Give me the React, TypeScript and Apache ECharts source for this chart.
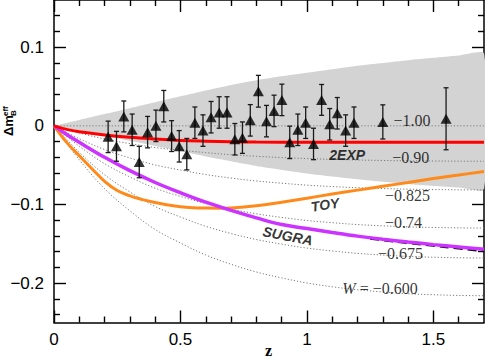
import React, { useEffect, useRef } from 'react';
import * as echarts from 'echarts';

// ---------- data ----------
const zGrid = [0, 0.1, 0.2, 0.3, 0.4, 0.5, 0.6, 0.7, 0.8, 0.9, 1.0, 1.1, 1.2, 1.3, 1.4, 1.5, 1.6, 1.7];

const bandUpper = [0, 0.0075, 0.015, 0.0225, 0.03, 0.0375, 0.045, 0.052, 0.058, 0.063, 0.0675, 0.072, 0.0765, 0.08, 0.0835, 0.0865, 0.0895, 0.092];
const bandLower = [0, -0.006, -0.0125, -0.019, -0.0255, -0.032, -0.039, -0.045, -0.051, -0.056, -0.0605, -0.0645, -0.068, -0.0712, -0.074, -0.0765, -0.0785, -0.08];

// constant-w model curves (dotted)
const wM100 = [0, 0, 0, 0, 0, 0, 0, 0, 0, 0, 0, 0, 0, 0, 0, 0, 0, 0];
const wM090 = [0, -0.009, -0.0167, -0.0225, -0.0275, -0.031, -0.034, -0.0367, -0.0387, -0.0403, -0.0416, -0.0426, -0.0434, -0.044, -0.0445, -0.0447, -0.0449, -0.045];
const wM0825 = [0, -0.0163, -0.0302, -0.0408, -0.0497, -0.0562, -0.0619, -0.0664, -0.0701, -0.0729, -0.0754, -0.0772, -0.0786, -0.0797, -0.0805, -0.081, -0.0813, -0.0815];
const wM074 = [0, -0.026, -0.0481, -0.065, -0.0793, -0.0897, -0.0988, -0.106, -0.1118, -0.1164, -0.1203, -0.1231, -0.1255, -0.1271, -0.1284, -0.1292, -0.1297, -0.13];
const wM0675 = [0, -0.0336, -0.0622, -0.084, -0.1025, -0.1159, -0.1277, -0.1369, -0.1445, -0.1504, -0.1554, -0.1591, -0.1621, -0.1643, -0.166, -0.167, -0.1677, -0.168];
const wM060 = [0, -0.0432, -0.0799, -0.108, -0.1318, -0.149, -0.1642, -0.176, -0.1858, -0.1933, -0.1998, -0.2046, -0.2084, -0.2112, -0.2134, -0.2147, -0.2156, -0.216];

// 2EXP (red)
const expZ = [0, 0.05, 0.1, 0.2, 0.3, 0.4, 0.5, 0.6, 0.7, 0.8, 1.0, 1.2, 1.4, 1.7];
const expM = [0, -0.0045, -0.0075, -0.0115, -0.0145, -0.0167, -0.0185, -0.0195, -0.0202, -0.0206, -0.021, -0.021, -0.021, -0.021];

// TOY (orange)
const toyZ = [0, 0.05, 0.1, 0.15, 0.2, 0.25, 0.3, 0.35, 0.4, 0.45, 0.5, 0.55, 0.6, 0.65, 0.7, 0.8, 0.9, 1.0, 1.1, 1.2, 1.3, 1.4, 1.5, 1.6, 1.7];
const toyM = [0, -0.021, -0.038, -0.0545, -0.0705, -0.0822, -0.089, -0.0938, -0.0975, -0.1005, -0.1028, -0.104, -0.1045, -0.1047, -0.1043, -0.1015, -0.097, -0.092, -0.0867, -0.0817, -0.0768, -0.072, -0.067, -0.0625, -0.058];

// SUGRA (magenta)
const sugraZ = [0, 0.05, 0.1, 0.2, 0.3, 0.4, 0.5, 0.6, 0.7, 0.8, 0.9, 1.0, 1.1, 1.2, 1.3, 1.4, 1.5, 1.6, 1.7];
const sugraM = [0, -0.011, -0.021, -0.04, -0.057, -0.072, -0.085, -0.097, -0.1075, -0.117, -0.1255, -0.1305, -0.1355, -0.1402, -0.1442, -0.1477, -0.151, -0.154, -0.157];

// black dashed segment
const dashZ = [1.25, 1.3, 1.4, 1.5, 1.6, 1.7];
const dashM = [-0.1435, -0.1455, -0.149, -0.1525, -0.156, -0.1595];

// SN data points
const pointZ = [0.214, 0.247, 0.276, 0.309, 0.337, 0.37, 0.403, 0.434, 0.465, 0.495, 0.525, 0.557, 0.589, 0.621, 0.653, 0.684, 0.715, 0.745, 0.776, 0.808, 0.84, 0.87, 0.901, 0.932, 0.964, 0.995, 1.026, 1.058, 1.09, 1.12, 1.153, 1.186, 1.3, 1.55];
const pointM = [-0.014, -0.026, 0.012, -0.005, -0.046, -0.008, 0.0, 0.025, -0.013, -0.026, -0.036, 0.004, -0.006, 0.011, 0.017, 0.017, -0.017, -0.015, 0.007, 0.044, 0.006, 0.019, 0.033, -0.021, -0.005, 0.004, -0.023, 0.033, 0.002, 0.016, -0.006, 0.004, 0.005, 0.009];
const pointErr = [0.02, 0.019, 0.0196, 0.02, 0.02, 0.02, 0.02, 0.02, 0.0196, 0.02, 0.02, 0.02, 0.02, 0.02, 0.02, 0.02, 0.02, 0.02, 0.02, 0.0202, 0.02, 0.02, 0.02, 0.0206, 0.02, 0.02, 0.02, 0.0196, 0.02, 0.02, 0.02, 0.02, 0.0217, 0.0394];

// axis ticks
const xMajor = [0, 0.5, 1, 1.5];
const xMinor = [0.1, 0.2, 0.3, 0.4, 0.6, 0.7, 0.8, 0.9, 1.1, 1.2, 1.3, 1.4, 1.6];
const yMajor = [-0.2, -0.1, 0, 0.1];
const yMinor = [-0.24, -0.22, -0.18, -0.16, -0.14, -0.12, -0.08, -0.06, -0.04, -0.02, 0.02, 0.04, 0.06, 0.08, 0.12, 0.14];

// curve annotations
const annoText = ['−1.00', '−0.90', '−0.825', '−0.74', '−0.675', '{i|W} = −0.600', '2EXP', 'TOY', 'SUGRA'];
const annoZ = [1.415, 1.41, 1.398, 1.382, 1.37, 1.289, 1.159, 1.072, 0.924];
const annoM = [0.007, -0.04, -0.0888, -0.123, -0.1625, -0.2066, -0.0368, -0.1003, -0.14];

const SERIF = '"Liberation Serif", "Times New Roman", serif';
const SANS = '"Liberation Sans", Arial, Helvetica, sans-serif';

const fmt = (v: number) => (v === 0 ? '0' : (v < 0 ? '−' : '') + String(Math.abs(v)));

export default function App() {
  const ref = useRef<HTMLDivElement>(null);
  useEffect(() => {
    if (!ref.current) return;
    const chart = echarts.init(ref.current, null, { renderer: 'svg' });

    const pair = (xs: number[], ys: number[]) => xs.map((x, i) => [x, ys[i]]);
    const dotted = (ys: number[], name: string) => ({
      type: 'line', name, data: pair(zGrid, ys), smooth: 0.35, showSymbol: false, symbol: 'none', z: 2,
      lineStyle: { color: '#7a7a7a', width: 1, type: [1.2, 2] }, silent: true,
    });

    const black = '#000';
    const xBase = { type: 'value', min: 0, max: 1.7, splitLine: { show: false } };
    const yBase = { type: 'value', min: -0.25, max: 0.16, splitLine: { show: false } };
    const tickStyle = { color: black, width: 1.4 };

    const annoItems = annoText.map((t, i) => {
      const isModel = i >= 6;
      const rot = t === 'TOY' ? 9 : t === 'SUGRA' ? -11 : 0;
      return {
        value: [annoZ[i], annoM[i]],
        label: {
          show: true,
          position: 'inside',
          formatter: t,
          rotate: rot,
          color: '#000',
          fontFamily: isModel ? SANS : SERIF,
          fontWeight: isModel ? 'bold' : 'normal',
          fontStyle: isModel ? 'italic' : 'normal',
          fontSize: isModel ? 14 : 16,
          rich: { i: { fontStyle: 'italic', fontFamily: SERIF, fontSize: 16, color: '#000' } },
        },
      };
    });

    const option: any = {
      animation: false,
      grid: { left: 54, right: 1, top: 0, bottom: 37.5, containLabel: false, outerBoundsMode: 'none' },
      xAxis: [
        {
          ...xBase, position: 'bottom',
          axisLine: { show: true, onZero: false, lineStyle: { color: black, width: 1.5 } },
          axisTick: { show: true, inside: true, length: 12, customValues: xMajor, lineStyle: tickStyle },
          axisLabel: { show: true, customValues: xMajor, formatter: fmt, color: black, fontSize: 17, fontFamily: SANS, margin: 8 },
        },
        {
          ...xBase, position: 'bottom',
          axisLine: { show: false, onZero: false },
          axisTick: { show: true, inside: true, length: 6, customValues: xMinor, lineStyle: tickStyle },
          axisLabel: { show: false },
        },
        {
          ...xBase, position: 'top',
          axisLine: { show: true, onZero: false, lineStyle: { color: black, width: 1.5 } },
          axisTick: { show: true, inside: true, length: 12, customValues: xMajor, lineStyle: tickStyle },
          axisLabel: { show: false },
        },
        {
          ...xBase, position: 'top',
          axisLine: { show: false, onZero: false },
          axisTick: { show: true, inside: true, length: 6, customValues: xMinor, lineStyle: tickStyle },
          axisLabel: { show: false },
        },
      ],
      yAxis: [
        {
          ...yBase, position: 'left',
          axisLine: { show: true, onZero: false, lineStyle: { color: black, width: 1.5 } },
          axisTick: { show: true, inside: true, length: 12, customValues: yMajor, lineStyle: tickStyle },
          axisLabel: { show: true, customValues: yMajor, formatter: fmt, color: black, fontSize: 17, fontFamily: SANS, margin: 10 },
        },
        {
          ...yBase, position: 'left',
          axisLine: { show: false, onZero: false },
          axisTick: { show: true, inside: true, length: 6, customValues: yMinor, lineStyle: tickStyle },
          axisLabel: { show: false },
        },
        {
          ...yBase, position: 'right',
          axisLine: { show: true, onZero: false, lineStyle: { color: black, width: 1.5 } },
          axisTick: { show: true, inside: true, length: 12, customValues: yMajor, lineStyle: tickStyle },
          axisLabel: { show: false },
        },
        {
          ...yBase, position: 'right',
          axisLine: { show: false, onZero: false },
          axisTick: { show: true, inside: true, length: 6, customValues: yMinor, lineStyle: tickStyle },
          axisLabel: { show: false },
        },
      ],
      graphic: [
        {
          type: 'group', x: 8.5, y: 136, rotation: Math.PI / 2, silent: true,
          children: [
            { type: 'text', x: 0, y: 0, style: { text: 'Δm', fontSize: 13, fontWeight: 'bold', fontFamily: SANS, fill: '#000', align: 'left', verticalAlign: 'middle' } },
            { type: 'text', x: 20, y: -3, style: { text: 'eff', fontSize: 8, fontWeight: 'bold', fontFamily: SANS, fill: '#000', align: 'left', verticalAlign: 'middle' } },
            { type: 'text', x: 20, y: 4.5, style: { text: 'B', fontSize: 8, fontWeight: 'bold', fontFamily: SANS, fill: '#000', align: 'left', verticalAlign: 'middle' } },
          ],
        },
        {
          type: 'text', x: 268.5, y: 350.5, silent: true,
          style: { text: 'z', fontSize: 16, fontWeight: 'bold', fontFamily: SERIF, fill: '#000', align: 'center', verticalAlign: 'middle' },
        },
      ],
      series: [
        {
          type: 'custom', name: 'band', z: 1, silent: true,
          data: [[0, 0]],
          renderItem: (_p: any, api: any) => {
            const pts: number[][] = [];
            for (let i = 0; i < zGrid.length; i++) pts.push(api.coord([zGrid[i], bandUpper[i]]));
            for (let i = zGrid.length - 1; i >= 0; i--) pts.push(api.coord([zGrid[i], bandLower[i]]));
            return { type: 'polygon', shape: { points: pts, smooth: 0.2 }, style: { fill: '#d3d3d3' } };
          },
        },
        dotted(wM100, 'w-1.00'),
        dotted(wM090, 'w-0.90'),
        dotted(wM0825, 'w-0.825'),
        dotted(wM074, 'w-0.74'),
        dotted(wM0675, 'w-0.675'),
        dotted(wM060, 'w-0.600'),
        {
          type: 'line', name: 'dash', data: pair(dashZ, dashM), smooth: true, symbol: 'none', z: 3,
          lineStyle: { color: '#000', width: 2, type: [9, 5] },
        },
        {
          type: 'line', name: 'TOY', data: pair(toyZ, toyM), smooth: 0.4, symbol: 'none', z: 3,
          lineStyle: { color: '#ff8a1c', width: 3 },
        },
        {
          type: 'line', name: 'SUGRA', data: pair(sugraZ, sugraM), smooth: 0.4, symbol: 'none', z: 4,
          lineStyle: { color: '#cc33ff', width: 3.5 },
        },
        {
          type: 'line', name: '2EXP', data: pair(expZ, expM), smooth: 0.4, symbol: 'none', z: 4,
          lineStyle: { color: '#ff0000', width: 3 },
        },
        {
          type: 'custom', name: 'errors', z: 5, silent: true,
          data: pointZ.map((z, i) => [z, pointM[i], pointErr[i]]),
          encode: { x: 0, y: 1 },
          renderItem: (_p: any, api: any) => {
            const x = api.value(0), y = api.value(1), e = api.value(2);
            const t = api.coord([x, y + e]);
            const b = api.coord([x, y - e]);
            const hw = 2.5;
            const st = { stroke: '#1a1a1a', lineWidth: 1.3 };
            return {
              type: 'group',
              children: [
                { type: 'line', shape: { x1: t[0], y1: t[1], x2: b[0], y2: b[1] }, style: st },
                { type: 'line', shape: { x1: t[0] - hw, y1: t[1], x2: t[0] + hw, y2: t[1] }, style: st },
                { type: 'line', shape: { x1: b[0] - hw, y1: b[1], x2: b[0] + hw, y2: b[1] }, style: st },
              ],
            };
          },
        },
        {
          type: 'scatter', name: 'SNe', z: 6,
          data: pair(pointZ, pointM),
          symbol: 'triangle', symbolSize: [11, 10],
          itemStyle: { color: '#000' },
        },
        {
          type: 'scatter', name: 'labels', z: 7, silent: true,
          symbolSize: 0,
          data: annoItems,
        },
      ],
    };
    chart.setOption(option);
    return () => chart.dispose();
  }, []);

  return <div ref={ref} style={{ position: 'absolute', left: 0, top: 0, width: 485, height: 360, background: '#fff' }} />;
}
